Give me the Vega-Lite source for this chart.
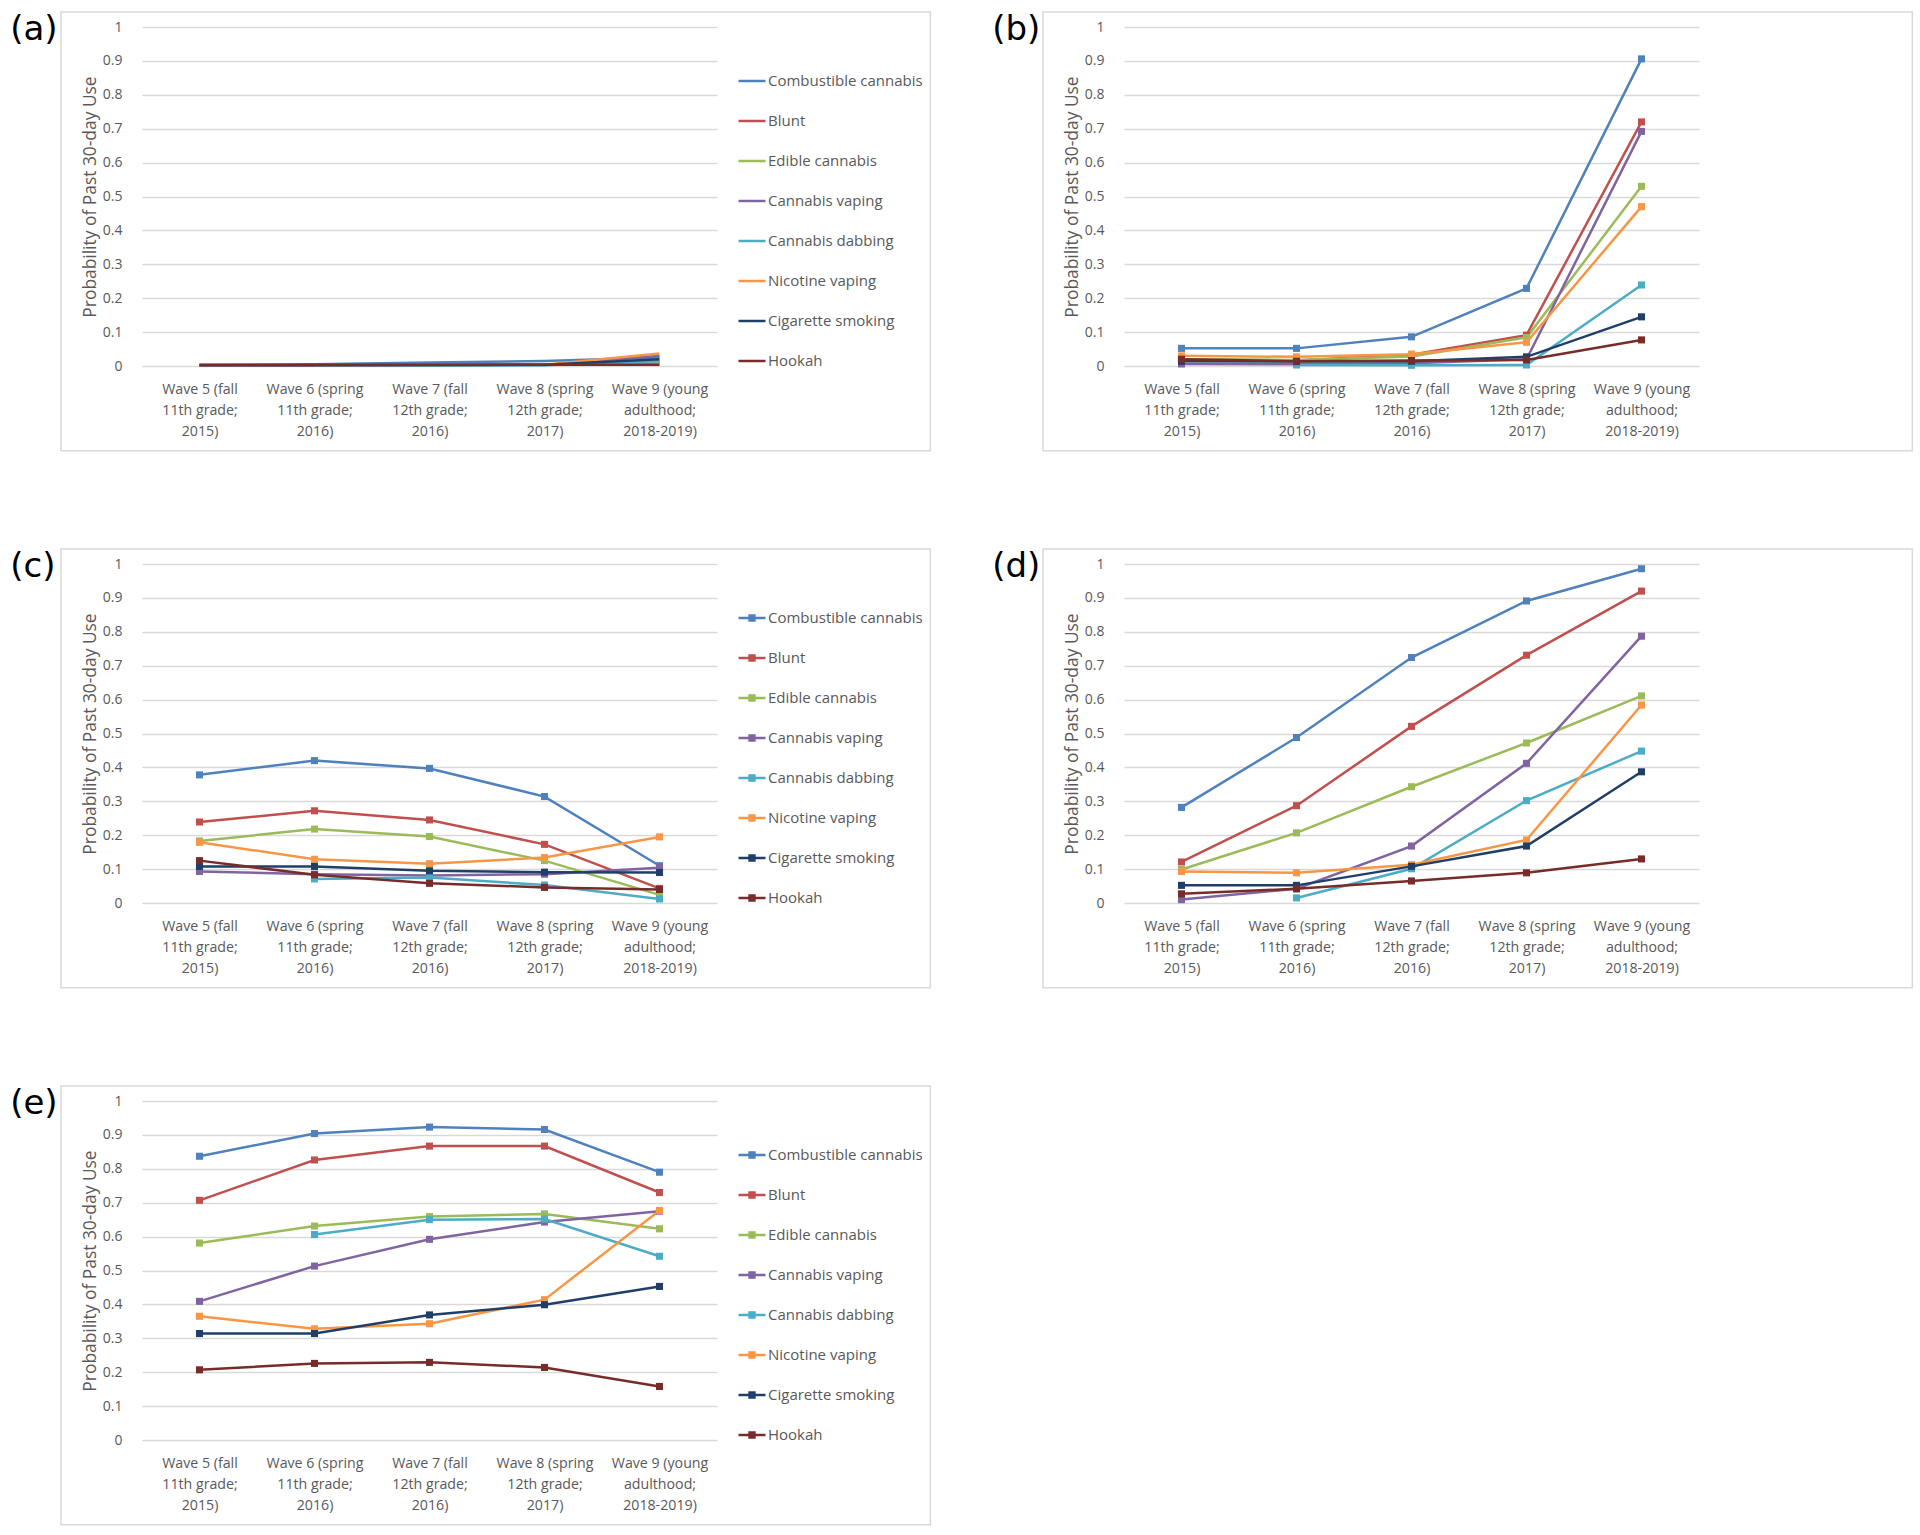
{
  "$schema": "https://vega.github.io/schema/vega-lite/v6.json",
  "background": "white",
  "padding": {"left": 10, "top": 11, "right": 5, "bottom": 5},
  "datasets": {
    "frame": [{"x0": -0.141, "x1": 1.371, "y0": -0.25, "y1": 1.044}],
    "d": [
      {"panel": "a", "s": "Combustible cannabis", "w": "Wave 5 (fall|11th grade;|2015)", "v": 0.003},
      {"panel": "a", "s": "Combustible cannabis", "w": "Wave 6 (spring|11th grade;|2016)", "v": 0.005},
      {"panel": "a", "s": "Combustible cannabis", "w": "Wave 7 (fall|12th grade;|2016)", "v": 0.01},
      {"panel": "a", "s": "Combustible cannabis", "w": "Wave 8 (spring|12th grade;|2017)", "v": 0.015},
      {"panel": "a", "s": "Combustible cannabis", "w": "Wave 9 (young|adulthood;|2018-2019)", "v": 0.025},
      {"panel": "a", "s": "Blunt", "w": "Wave 5 (fall|11th grade;|2015)", "v": 0.002},
      {"panel": "a", "s": "Blunt", "w": "Wave 6 (spring|11th grade;|2016)", "v": 0.002},
      {"panel": "a", "s": "Blunt", "w": "Wave 7 (fall|12th grade;|2016)", "v": 0.003},
      {"panel": "a", "s": "Blunt", "w": "Wave 8 (spring|12th grade;|2017)", "v": 0.004},
      {"panel": "a", "s": "Blunt", "w": "Wave 9 (young|adulthood;|2018-2019)", "v": 0.01},
      {"panel": "a", "s": "Edible cannabis", "w": "Wave 5 (fall|11th grade;|2015)", "v": 0.002},
      {"panel": "a", "s": "Edible cannabis", "w": "Wave 6 (spring|11th grade;|2016)", "v": 0.002},
      {"panel": "a", "s": "Edible cannabis", "w": "Wave 7 (fall|12th grade;|2016)", "v": 0.003},
      {"panel": "a", "s": "Edible cannabis", "w": "Wave 8 (spring|12th grade;|2017)", "v": 0.004},
      {"panel": "a", "s": "Edible cannabis", "w": "Wave 9 (young|adulthood;|2018-2019)", "v": 0.008},
      {"panel": "a", "s": "Cannabis vaping", "w": "Wave 5 (fall|11th grade;|2015)", "v": 0.001},
      {"panel": "a", "s": "Cannabis vaping", "w": "Wave 6 (spring|11th grade;|2016)", "v": 0.001},
      {"panel": "a", "s": "Cannabis vaping", "w": "Wave 7 (fall|12th grade;|2016)", "v": 0.002},
      {"panel": "a", "s": "Cannabis vaping", "w": "Wave 8 (spring|12th grade;|2017)", "v": 0.003},
      {"panel": "a", "s": "Cannabis vaping", "w": "Wave 9 (young|adulthood;|2018-2019)", "v": 0.03},
      {"panel": "a", "s": "Cannabis dabbing", "w": "Wave 6 (spring|11th grade;|2016)", "v": 0.001},
      {"panel": "a", "s": "Cannabis dabbing", "w": "Wave 7 (fall|12th grade;|2016)", "v": 0.001},
      {"panel": "a", "s": "Cannabis dabbing", "w": "Wave 8 (spring|12th grade;|2017)", "v": 0.002},
      {"panel": "a", "s": "Cannabis dabbing", "w": "Wave 9 (young|adulthood;|2018-2019)", "v": 0.015},
      {"panel": "a", "s": "Nicotine vaping", "w": "Wave 5 (fall|11th grade;|2015)", "v": 0.002},
      {"panel": "a", "s": "Nicotine vaping", "w": "Wave 6 (spring|11th grade;|2016)", "v": 0.002},
      {"panel": "a", "s": "Nicotine vaping", "w": "Wave 7 (fall|12th grade;|2016)", "v": 0.003},
      {"panel": "a", "s": "Nicotine vaping", "w": "Wave 8 (spring|12th grade;|2017)", "v": 0.004},
      {"panel": "a", "s": "Nicotine vaping", "w": "Wave 9 (young|adulthood;|2018-2019)", "v": 0.037},
      {"panel": "a", "s": "Cigarette smoking", "w": "Wave 5 (fall|11th grade;|2015)", "v": 0.002},
      {"panel": "a", "s": "Cigarette smoking", "w": "Wave 6 (spring|11th grade;|2016)", "v": 0.002},
      {"panel": "a", "s": "Cigarette smoking", "w": "Wave 7 (fall|12th grade;|2016)", "v": 0.003},
      {"panel": "a", "s": "Cigarette smoking", "w": "Wave 8 (spring|12th grade;|2017)", "v": 0.004},
      {"panel": "a", "s": "Cigarette smoking", "w": "Wave 9 (young|adulthood;|2018-2019)", "v": 0.02},
      {"panel": "a", "s": "Hookah", "w": "Wave 5 (fall|11th grade;|2015)", "v": 0.004},
      {"panel": "a", "s": "Hookah", "w": "Wave 6 (spring|11th grade;|2016)", "v": 0.004},
      {"panel": "a", "s": "Hookah", "w": "Wave 7 (fall|12th grade;|2016)", "v": 0.004},
      {"panel": "a", "s": "Hookah", "w": "Wave 8 (spring|12th grade;|2017)", "v": 0.004},
      {"panel": "a", "s": "Hookah", "w": "Wave 9 (young|adulthood;|2018-2019)", "v": 0.004},

      {"panel": "b", "s": "Combustible cannabis", "w": "Wave 5 (fall|11th grade;|2015)", "v": 0.052},
      {"panel": "b", "s": "Combustible cannabis", "w": "Wave 6 (spring|11th grade;|2016)", "v": 0.052},
      {"panel": "b", "s": "Combustible cannabis", "w": "Wave 7 (fall|12th grade;|2016)", "v": 0.086},
      {"panel": "b", "s": "Combustible cannabis", "w": "Wave 8 (spring|12th grade;|2017)", "v": 0.229},
      {"panel": "b", "s": "Combustible cannabis", "w": "Wave 9 (young|adulthood;|2018-2019)", "v": 0.906},
      {"panel": "b", "s": "Blunt", "w": "Wave 5 (fall|11th grade;|2015)", "v": 0.02},
      {"panel": "b", "s": "Blunt", "w": "Wave 6 (spring|11th grade;|2016)", "v": 0.016},
      {"panel": "b", "s": "Blunt", "w": "Wave 7 (fall|12th grade;|2016)", "v": 0.033},
      {"panel": "b", "s": "Blunt", "w": "Wave 8 (spring|12th grade;|2017)", "v": 0.091},
      {"panel": "b", "s": "Blunt", "w": "Wave 9 (young|adulthood;|2018-2019)", "v": 0.72},
      {"panel": "b", "s": "Edible cannabis", "w": "Wave 5 (fall|11th grade;|2015)", "v": 0.02},
      {"panel": "b", "s": "Edible cannabis", "w": "Wave 6 (spring|11th grade;|2016)", "v": 0.018},
      {"panel": "b", "s": "Edible cannabis", "w": "Wave 7 (fall|12th grade;|2016)", "v": 0.028},
      {"panel": "b", "s": "Edible cannabis", "w": "Wave 8 (spring|12th grade;|2017)", "v": 0.084},
      {"panel": "b", "s": "Edible cannabis", "w": "Wave 9 (young|adulthood;|2018-2019)", "v": 0.53},
      {"panel": "b", "s": "Cannabis vaping", "w": "Wave 5 (fall|11th grade;|2015)", "v": 0.006},
      {"panel": "b", "s": "Cannabis vaping", "w": "Wave 6 (spring|11th grade;|2016)", "v": 0.005},
      {"panel": "b", "s": "Cannabis vaping", "w": "Wave 7 (fall|12th grade;|2016)", "v": 0.008},
      {"panel": "b", "s": "Cannabis vaping", "w": "Wave 8 (spring|12th grade;|2017)", "v": 0.02},
      {"panel": "b", "s": "Cannabis vaping", "w": "Wave 9 (young|adulthood;|2018-2019)", "v": 0.692},
      {"panel": "b", "s": "Cannabis dabbing", "w": "Wave 6 (spring|11th grade;|2016)", "v": 0.003},
      {"panel": "b", "s": "Cannabis dabbing", "w": "Wave 7 (fall|12th grade;|2016)", "v": 0.002},
      {"panel": "b", "s": "Cannabis dabbing", "w": "Wave 8 (spring|12th grade;|2017)", "v": 0.003},
      {"panel": "b", "s": "Cannabis dabbing", "w": "Wave 9 (young|adulthood;|2018-2019)", "v": 0.239},
      {"panel": "b", "s": "Nicotine vaping", "w": "Wave 5 (fall|11th grade;|2015)", "v": 0.03},
      {"panel": "b", "s": "Nicotine vaping", "w": "Wave 6 (spring|11th grade;|2016)", "v": 0.027},
      {"panel": "b", "s": "Nicotine vaping", "w": "Wave 7 (fall|12th grade;|2016)", "v": 0.035},
      {"panel": "b", "s": "Nicotine vaping", "w": "Wave 8 (spring|12th grade;|2017)", "v": 0.07},
      {"panel": "b", "s": "Nicotine vaping", "w": "Wave 9 (young|adulthood;|2018-2019)", "v": 0.47},
      {"panel": "b", "s": "Cigarette smoking", "w": "Wave 5 (fall|11th grade;|2015)", "v": 0.014},
      {"panel": "b", "s": "Cigarette smoking", "w": "Wave 6 (spring|11th grade;|2016)", "v": 0.013},
      {"panel": "b", "s": "Cigarette smoking", "w": "Wave 7 (fall|12th grade;|2016)", "v": 0.014},
      {"panel": "b", "s": "Cigarette smoking", "w": "Wave 8 (spring|12th grade;|2017)", "v": 0.027},
      {"panel": "b", "s": "Cigarette smoking", "w": "Wave 9 (young|adulthood;|2018-2019)", "v": 0.145},
      {"panel": "b", "s": "Hookah", "w": "Wave 5 (fall|11th grade;|2015)", "v": 0.02},
      {"panel": "b", "s": "Hookah", "w": "Wave 6 (spring|11th grade;|2016)", "v": 0.014},
      {"panel": "b", "s": "Hookah", "w": "Wave 7 (fall|12th grade;|2016)", "v": 0.016},
      {"panel": "b", "s": "Hookah", "w": "Wave 8 (spring|12th grade;|2017)", "v": 0.018},
      {"panel": "b", "s": "Hookah", "w": "Wave 9 (young|adulthood;|2018-2019)", "v": 0.077},

      {"panel": "c", "s": "Combustible cannabis", "w": "Wave 5 (fall|11th grade;|2015)", "v": 0.378},
      {"panel": "c", "s": "Combustible cannabis", "w": "Wave 6 (spring|11th grade;|2016)", "v": 0.42},
      {"panel": "c", "s": "Combustible cannabis", "w": "Wave 7 (fall|12th grade;|2016)", "v": 0.397},
      {"panel": "c", "s": "Combustible cannabis", "w": "Wave 8 (spring|12th grade;|2017)", "v": 0.314},
      {"panel": "c", "s": "Combustible cannabis", "w": "Wave 9 (young|adulthood;|2018-2019)", "v": 0.11},
      {"panel": "c", "s": "Blunt", "w": "Wave 5 (fall|11th grade;|2015)", "v": 0.239},
      {"panel": "c", "s": "Blunt", "w": "Wave 6 (spring|11th grade;|2016)", "v": 0.272},
      {"panel": "c", "s": "Blunt", "w": "Wave 7 (fall|12th grade;|2016)", "v": 0.245},
      {"panel": "c", "s": "Blunt", "w": "Wave 8 (spring|12th grade;|2017)", "v": 0.173},
      {"panel": "c", "s": "Blunt", "w": "Wave 9 (young|adulthood;|2018-2019)", "v": 0.043},
      {"panel": "c", "s": "Edible cannabis", "w": "Wave 5 (fall|11th grade;|2015)", "v": 0.183},
      {"panel": "c", "s": "Edible cannabis", "w": "Wave 6 (spring|11th grade;|2016)", "v": 0.218},
      {"panel": "c", "s": "Edible cannabis", "w": "Wave 7 (fall|12th grade;|2016)", "v": 0.196},
      {"panel": "c", "s": "Edible cannabis", "w": "Wave 8 (spring|12th grade;|2017)", "v": 0.125},
      {"panel": "c", "s": "Edible cannabis", "w": "Wave 9 (young|adulthood;|2018-2019)", "v": 0.024},
      {"panel": "c", "s": "Cannabis vaping", "w": "Wave 5 (fall|11th grade;|2015)", "v": 0.093},
      {"panel": "c", "s": "Cannabis vaping", "w": "Wave 6 (spring|11th grade;|2016)", "v": 0.085},
      {"panel": "c", "s": "Cannabis vaping", "w": "Wave 7 (fall|12th grade;|2016)", "v": 0.081},
      {"panel": "c", "s": "Cannabis vaping", "w": "Wave 8 (spring|12th grade;|2017)", "v": 0.085},
      {"panel": "c", "s": "Cannabis vaping", "w": "Wave 9 (young|adulthood;|2018-2019)", "v": 0.104},
      {"panel": "c", "s": "Cannabis dabbing", "w": "Wave 6 (spring|11th grade;|2016)", "v": 0.071},
      {"panel": "c", "s": "Cannabis dabbing", "w": "Wave 7 (fall|12th grade;|2016)", "v": 0.075},
      {"panel": "c", "s": "Cannabis dabbing", "w": "Wave 8 (spring|12th grade;|2017)", "v": 0.053},
      {"panel": "c", "s": "Cannabis dabbing", "w": "Wave 9 (young|adulthood;|2018-2019)", "v": 0.012},
      {"panel": "c", "s": "Nicotine vaping", "w": "Wave 5 (fall|11th grade;|2015)", "v": 0.179},
      {"panel": "c", "s": "Nicotine vaping", "w": "Wave 6 (spring|11th grade;|2016)", "v": 0.129},
      {"panel": "c", "s": "Nicotine vaping", "w": "Wave 7 (fall|12th grade;|2016)", "v": 0.116},
      {"panel": "c", "s": "Nicotine vaping", "w": "Wave 8 (spring|12th grade;|2017)", "v": 0.134},
      {"panel": "c", "s": "Nicotine vaping", "w": "Wave 9 (young|adulthood;|2018-2019)", "v": 0.195},
      {"panel": "c", "s": "Cigarette smoking", "w": "Wave 5 (fall|11th grade;|2015)", "v": 0.108},
      {"panel": "c", "s": "Cigarette smoking", "w": "Wave 6 (spring|11th grade;|2016)", "v": 0.108},
      {"panel": "c", "s": "Cigarette smoking", "w": "Wave 7 (fall|12th grade;|2016)", "v": 0.095},
      {"panel": "c", "s": "Cigarette smoking", "w": "Wave 8 (spring|12th grade;|2017)", "v": 0.091},
      {"panel": "c", "s": "Cigarette smoking", "w": "Wave 9 (young|adulthood;|2018-2019)", "v": 0.09},
      {"panel": "c", "s": "Hookah", "w": "Wave 5 (fall|11th grade;|2015)", "v": 0.125},
      {"panel": "c", "s": "Hookah", "w": "Wave 6 (spring|11th grade;|2016)", "v": 0.083},
      {"panel": "c", "s": "Hookah", "w": "Wave 7 (fall|12th grade;|2016)", "v": 0.058},
      {"panel": "c", "s": "Hookah", "w": "Wave 8 (spring|12th grade;|2017)", "v": 0.046},
      {"panel": "c", "s": "Hookah", "w": "Wave 9 (young|adulthood;|2018-2019)", "v": 0.04},

      {"panel": "d", "s": "Combustible cannabis", "w": "Wave 5 (fall|11th grade;|2015)", "v": 0.282},
      {"panel": "d", "s": "Combustible cannabis", "w": "Wave 6 (spring|11th grade;|2016)", "v": 0.488},
      {"panel": "d", "s": "Combustible cannabis", "w": "Wave 7 (fall|12th grade;|2016)", "v": 0.724},
      {"panel": "d", "s": "Combustible cannabis", "w": "Wave 8 (spring|12th grade;|2017)", "v": 0.891},
      {"panel": "d", "s": "Combustible cannabis", "w": "Wave 9 (young|adulthood;|2018-2019)", "v": 0.986},
      {"panel": "d", "s": "Blunt", "w": "Wave 5 (fall|11th grade;|2015)", "v": 0.121},
      {"panel": "d", "s": "Blunt", "w": "Wave 6 (spring|11th grade;|2016)", "v": 0.287},
      {"panel": "d", "s": "Blunt", "w": "Wave 7 (fall|12th grade;|2016)", "v": 0.521},
      {"panel": "d", "s": "Blunt", "w": "Wave 8 (spring|12th grade;|2017)", "v": 0.731},
      {"panel": "d", "s": "Blunt", "w": "Wave 9 (young|adulthood;|2018-2019)", "v": 0.92},
      {"panel": "d", "s": "Edible cannabis", "w": "Wave 5 (fall|11th grade;|2015)", "v": 0.099},
      {"panel": "d", "s": "Edible cannabis", "w": "Wave 6 (spring|11th grade;|2016)", "v": 0.207},
      {"panel": "d", "s": "Edible cannabis", "w": "Wave 7 (fall|12th grade;|2016)", "v": 0.343},
      {"panel": "d", "s": "Edible cannabis", "w": "Wave 8 (spring|12th grade;|2017)", "v": 0.472},
      {"panel": "d", "s": "Edible cannabis", "w": "Wave 9 (young|adulthood;|2018-2019)", "v": 0.611},
      {"panel": "d", "s": "Cannabis vaping", "w": "Wave 5 (fall|11th grade;|2015)", "v": 0.01},
      {"panel": "d", "s": "Cannabis vaping", "w": "Wave 6 (spring|11th grade;|2016)", "v": 0.042},
      {"panel": "d", "s": "Cannabis vaping", "w": "Wave 7 (fall|12th grade;|2016)", "v": 0.168},
      {"panel": "d", "s": "Cannabis vaping", "w": "Wave 8 (spring|12th grade;|2017)", "v": 0.412},
      {"panel": "d", "s": "Cannabis vaping", "w": "Wave 9 (young|adulthood;|2018-2019)", "v": 0.787},
      {"panel": "d", "s": "Cannabis dabbing", "w": "Wave 6 (spring|11th grade;|2016)", "v": 0.015},
      {"panel": "d", "s": "Cannabis dabbing", "w": "Wave 7 (fall|12th grade;|2016)", "v": 0.101},
      {"panel": "d", "s": "Cannabis dabbing", "w": "Wave 8 (spring|12th grade;|2017)", "v": 0.302},
      {"panel": "d", "s": "Cannabis dabbing", "w": "Wave 9 (young|adulthood;|2018-2019)", "v": 0.448},
      {"panel": "d", "s": "Nicotine vaping", "w": "Wave 5 (fall|11th grade;|2015)", "v": 0.093},
      {"panel": "d", "s": "Nicotine vaping", "w": "Wave 6 (spring|11th grade;|2016)", "v": 0.089},
      {"panel": "d", "s": "Nicotine vaping", "w": "Wave 7 (fall|12th grade;|2016)", "v": 0.113},
      {"panel": "d", "s": "Nicotine vaping", "w": "Wave 8 (spring|12th grade;|2017)", "v": 0.186},
      {"panel": "d", "s": "Nicotine vaping", "w": "Wave 9 (young|adulthood;|2018-2019)", "v": 0.584},
      {"panel": "d", "s": "Cigarette smoking", "w": "Wave 5 (fall|11th grade;|2015)", "v": 0.052},
      {"panel": "d", "s": "Cigarette smoking", "w": "Wave 6 (spring|11th grade;|2016)", "v": 0.052},
      {"panel": "d", "s": "Cigarette smoking", "w": "Wave 7 (fall|12th grade;|2016)", "v": 0.108},
      {"panel": "d", "s": "Cigarette smoking", "w": "Wave 8 (spring|12th grade;|2017)", "v": 0.168},
      {"panel": "d", "s": "Cigarette smoking", "w": "Wave 9 (young|adulthood;|2018-2019)", "v": 0.387},
      {"panel": "d", "s": "Hookah", "w": "Wave 5 (fall|11th grade;|2015)", "v": 0.027},
      {"panel": "d", "s": "Hookah", "w": "Wave 6 (spring|11th grade;|2016)", "v": 0.042},
      {"panel": "d", "s": "Hookah", "w": "Wave 7 (fall|12th grade;|2016)", "v": 0.065},
      {"panel": "d", "s": "Hookah", "w": "Wave 8 (spring|12th grade;|2017)", "v": 0.089},
      {"panel": "d", "s": "Hookah", "w": "Wave 9 (young|adulthood;|2018-2019)", "v": 0.13},

      {"panel": "e", "s": "Combustible cannabis", "w": "Wave 5 (fall|11th grade;|2015)", "v": 0.837},
      {"panel": "e", "s": "Combustible cannabis", "w": "Wave 6 (spring|11th grade;|2016)", "v": 0.904},
      {"panel": "e", "s": "Combustible cannabis", "w": "Wave 7 (fall|12th grade;|2016)", "v": 0.923},
      {"panel": "e", "s": "Combustible cannabis", "w": "Wave 8 (spring|12th grade;|2017)", "v": 0.916},
      {"panel": "e", "s": "Combustible cannabis", "w": "Wave 9 (young|adulthood;|2018-2019)", "v": 0.79},
      {"panel": "e", "s": "Blunt", "w": "Wave 5 (fall|11th grade;|2015)", "v": 0.707},
      {"panel": "e", "s": "Blunt", "w": "Wave 6 (spring|11th grade;|2016)", "v": 0.826},
      {"panel": "e", "s": "Blunt", "w": "Wave 7 (fall|12th grade;|2016)", "v": 0.867},
      {"panel": "e", "s": "Blunt", "w": "Wave 8 (spring|12th grade;|2017)", "v": 0.867},
      {"panel": "e", "s": "Blunt", "w": "Wave 9 (young|adulthood;|2018-2019)", "v": 0.73},
      {"panel": "e", "s": "Edible cannabis", "w": "Wave 5 (fall|11th grade;|2015)", "v": 0.581},
      {"panel": "e", "s": "Edible cannabis", "w": "Wave 6 (spring|11th grade;|2016)", "v": 0.631},
      {"panel": "e", "s": "Edible cannabis", "w": "Wave 7 (fall|12th grade;|2016)", "v": 0.659},
      {"panel": "e", "s": "Edible cannabis", "w": "Wave 8 (spring|12th grade;|2017)", "v": 0.667},
      {"panel": "e", "s": "Edible cannabis", "w": "Wave 9 (young|adulthood;|2018-2019)", "v": 0.623},
      {"panel": "e", "s": "Cannabis vaping", "w": "Wave 5 (fall|11th grade;|2015)", "v": 0.409},
      {"panel": "e", "s": "Cannabis vaping", "w": "Wave 6 (spring|11th grade;|2016)", "v": 0.513},
      {"panel": "e", "s": "Cannabis vaping", "w": "Wave 7 (fall|12th grade;|2016)", "v": 0.592},
      {"panel": "e", "s": "Cannabis vaping", "w": "Wave 8 (spring|12th grade;|2017)", "v": 0.643},
      {"panel": "e", "s": "Cannabis vaping", "w": "Wave 9 (young|adulthood;|2018-2019)", "v": 0.675},
      {"panel": "e", "s": "Cannabis dabbing", "w": "Wave 6 (spring|11th grade;|2016)", "v": 0.606},
      {"panel": "e", "s": "Cannabis dabbing", "w": "Wave 7 (fall|12th grade;|2016)", "v": 0.65},
      {"panel": "e", "s": "Cannabis dabbing", "w": "Wave 8 (spring|12th grade;|2017)", "v": 0.652},
      {"panel": "e", "s": "Cannabis dabbing", "w": "Wave 9 (young|adulthood;|2018-2019)", "v": 0.542},
      {"panel": "e", "s": "Nicotine vaping", "w": "Wave 5 (fall|11th grade;|2015)", "v": 0.365},
      {"panel": "e", "s": "Nicotine vaping", "w": "Wave 6 (spring|11th grade;|2016)", "v": 0.328},
      {"panel": "e", "s": "Nicotine vaping", "w": "Wave 7 (fall|12th grade;|2016)", "v": 0.343},
      {"panel": "e", "s": "Nicotine vaping", "w": "Wave 8 (spring|12th grade;|2017)", "v": 0.414},
      {"panel": "e", "s": "Nicotine vaping", "w": "Wave 9 (young|adulthood;|2018-2019)", "v": 0.677},
      {"panel": "e", "s": "Cigarette smoking", "w": "Wave 5 (fall|11th grade;|2015)", "v": 0.314},
      {"panel": "e", "s": "Cigarette smoking", "w": "Wave 6 (spring|11th grade;|2016)", "v": 0.314},
      {"panel": "e", "s": "Cigarette smoking", "w": "Wave 7 (fall|12th grade;|2016)", "v": 0.369},
      {"panel": "e", "s": "Cigarette smoking", "w": "Wave 8 (spring|12th grade;|2017)", "v": 0.399},
      {"panel": "e", "s": "Cigarette smoking", "w": "Wave 9 (young|adulthood;|2018-2019)", "v": 0.453},
      {"panel": "e", "s": "Hookah", "w": "Wave 5 (fall|11th grade;|2015)", "v": 0.207},
      {"panel": "e", "s": "Hookah", "w": "Wave 6 (spring|11th grade;|2016)", "v": 0.226},
      {"panel": "e", "s": "Hookah", "w": "Wave 7 (fall|12th grade;|2016)", "v": 0.229},
      {"panel": "e", "s": "Hookah", "w": "Wave 8 (spring|12th grade;|2017)", "v": 0.214},
      {"panel": "e", "s": "Hookah", "w": "Wave 9 (young|adulthood;|2018-2019)", "v": 0.158}
    ]
  },
  "config": {
    "view": {"stroke": null},
    "font": "Open Sans",
    "axis": {
      "labelFont": "Open Sans",
      "labelColor": "#595959",
      "labelFontSize": 14,
      "titleFont": "Open Sans",
      "titleColor": "#595959",
      "titleFontWeight": "normal",
      "domain": false,
      "ticks": false,
      "tickSize": 0
    },
    "legend": {
      "labelFont": "Open Sans",
      "labelFontSize": 15,
      "labelColor": "#595959",
      "orient": "none",
      "legendX": 595,
      "legendY": 39,
      "rowPadding": 17,
      "symbolSize": 729,
      "symbolStrokeWidth": 2.5,
      "labelOffset": 1,
      "padding": 0
    },
    "title": {
      "font": "DejaVu Sans",
      "fontSize": 34,
      "fontWeight": "normal",
      "color": "#000000",
      "anchor": "start",
      "frame": "bounds",
      "baseline": "top",
      "offset": -36,
      "dx": -50
    },
    "concat": {"spacing": 96}
  },
  "resolve": {"scale": {"color": "independent"}, "legend": {"color": "independent"}},
  "vconcat": [
    {
      "spacing": 60,
      "hconcat": [
        {
          "title": "(a)",
          "width": 575, "height": 339,
          "resolve": {"scale": {"x": "independent", "y": "independent"}},
          "layer": [
            {
              "data": {"name": "d"},
              "transform": [{"filter": "datum.panel == 'a'"}],
              "mark": {"type": "line", "strokeWidth": 2.5},
              "encoding": {
                "x": {"field": "w", "type": "nominal", "sort": ["Wave 5 (fall|11th grade;|2015)", "Wave 6 (spring|11th grade;|2016)", "Wave 7 (fall|12th grade;|2016)", "Wave 8 (spring|12th grade;|2017)", "Wave 9 (young|adulthood;|2018-2019)"], "title": null, "axis": {"labelAngle": 0, "labelExpr": "split(datum.value, '|')", "labelLineHeight": 21, "labelPadding": 16, "labelFontSize": 14.2}},
                "y": {"field": "v", "type": "quantitative", "scale": {"domain": [0, 1], "nice": false}, "title": "Probability of Past 30-day Use", "axis": {"values": [0, 0.1, 0.2, 0.3, 0.4, 0.5, 0.6, 0.7, 0.8, 0.9, 1], "format": "~g", "gridColor": "#d9d9d9", "gridWidth": 1.3, "labelPadding": 20, "titlePadding": 3, "titleFontSize": 17.4}},
                "color": {"field": "s", "type": "nominal", "scale": {"domain": ["Combustible cannabis", "Blunt", "Edible cannabis", "Cannabis vaping", "Cannabis dabbing", "Nicotine vaping", "Cigarette smoking", "Hookah"], "range": ["#4F81BD", "#C0504D", "#9BBB59", "#8064A2", "#4BACC6", "#F79646", "#1F3F68", "#772C2A"]}, "legend": {"title": null, "symbolType": "stroke"}}
              }
            },
            {
              "data": {"name": "frame"},
              "mark": {"type": "rect", "filled": false, "stroke": "#d9d9d9", "strokeWidth": 1.5},
              "encoding": {
                "x": {"field": "x0", "type": "quantitative", "scale": {"domain": [0, 1], "nice": false, "zero": false}, "axis": null},
                "x2": {"field": "x1"},
                "y": {"field": "y0", "type": "quantitative", "scale": {"domain": [0, 1], "nice": false, "zero": false}, "axis": null},
                "y2": {"field": "y1"}
              }
            }
          ]
        },
        {
          "title": "(b)",
          "width": 575, "height": 339,
          "resolve": {"scale": {"x": "independent", "y": "independent"}},
          "layer": [
            {
              "data": {"name": "d"},
              "transform": [{"filter": "datum.panel == 'b'"}],
              "mark": {"type": "line", "strokeWidth": 2.5, "point": {"shape": "square", "size": 50, "filled": true}},
              "encoding": {
                "x": {"field": "w", "type": "nominal", "sort": ["Wave 5 (fall|11th grade;|2015)", "Wave 6 (spring|11th grade;|2016)", "Wave 7 (fall|12th grade;|2016)", "Wave 8 (spring|12th grade;|2017)", "Wave 9 (young|adulthood;|2018-2019)"], "title": null, "axis": {"labelAngle": 0, "labelExpr": "split(datum.value, '|')", "labelLineHeight": 21, "labelPadding": 16, "labelFontSize": 14.2}},
                "y": {"field": "v", "type": "quantitative", "scale": {"domain": [0, 1], "nice": false}, "title": "Probability of Past 30-day Use", "axis": {"values": [0, 0.1, 0.2, 0.3, 0.4, 0.5, 0.6, 0.7, 0.8, 0.9, 1], "format": "~g", "gridColor": "#d9d9d9", "gridWidth": 1.3, "labelPadding": 20, "titlePadding": 3, "titleFontSize": 17.4}},
                "color": {"field": "s", "type": "nominal", "scale": {"domain": ["Combustible cannabis", "Blunt", "Edible cannabis", "Cannabis vaping", "Cannabis dabbing", "Nicotine vaping", "Cigarette smoking", "Hookah"], "range": ["#4F81BD", "#C0504D", "#9BBB59", "#8064A2", "#4BACC6", "#F79646", "#1F3F68", "#772C2A"]}, "legend": {"title": null, "symbolType": "M-1,0H1M-0.18,-0.18H0.18V0.18H-0.18Z"}}
              }
            },
            {
              "data": {"name": "frame"},
              "mark": {"type": "rect", "filled": false, "stroke": "#d9d9d9", "strokeWidth": 1.5},
              "encoding": {
                "x": {"field": "x0", "type": "quantitative", "scale": {"domain": [0, 1], "nice": false, "zero": false}, "axis": null},
                "x2": {"field": "x1"},
                "y": {"field": "y0", "type": "quantitative", "scale": {"domain": [0, 1], "nice": false, "zero": false}, "axis": null},
                "y2": {"field": "y1"}
              }
            }
          ]
        }
      ]
    },
    {
      "spacing": 60,
      "hconcat": [
        {
          "title": "(c)",
          "width": 575, "height": 339,
          "resolve": {"scale": {"x": "independent", "y": "independent"}},
          "layer": [
            {
              "data": {"name": "d"},
              "transform": [{"filter": "datum.panel == 'c'"}],
              "mark": {"type": "line", "strokeWidth": 2.5, "point": {"shape": "square", "size": 50, "filled": true}},
              "encoding": {
                "x": {"field": "w", "type": "nominal", "sort": ["Wave 5 (fall|11th grade;|2015)", "Wave 6 (spring|11th grade;|2016)", "Wave 7 (fall|12th grade;|2016)", "Wave 8 (spring|12th grade;|2017)", "Wave 9 (young|adulthood;|2018-2019)"], "title": null, "axis": {"labelAngle": 0, "labelExpr": "split(datum.value, '|')", "labelLineHeight": 21, "labelPadding": 16, "labelFontSize": 14.2}},
                "y": {"field": "v", "type": "quantitative", "scale": {"domain": [0, 1], "nice": false}, "title": "Probability of Past 30-day Use", "axis": {"values": [0, 0.1, 0.2, 0.3, 0.4, 0.5, 0.6, 0.7, 0.8, 0.9, 1], "format": "~g", "gridColor": "#d9d9d9", "gridWidth": 1.3, "labelPadding": 20, "titlePadding": 3, "titleFontSize": 17.4}},
                "color": {"field": "s", "type": "nominal", "scale": {"domain": ["Combustible cannabis", "Blunt", "Edible cannabis", "Cannabis vaping", "Cannabis dabbing", "Nicotine vaping", "Cigarette smoking", "Hookah"], "range": ["#4F81BD", "#C0504D", "#9BBB59", "#8064A2", "#4BACC6", "#F79646", "#1F3F68", "#772C2A"]}, "legend": {"title": null, "symbolType": "M-1,0H1M-0.18,-0.18H0.18V0.18H-0.18Z"}}
              }
            },
            {
              "data": {"name": "frame"},
              "mark": {"type": "rect", "filled": false, "stroke": "#d9d9d9", "strokeWidth": 1.5},
              "encoding": {
                "x": {"field": "x0", "type": "quantitative", "scale": {"domain": [0, 1], "nice": false, "zero": false}, "axis": null},
                "x2": {"field": "x1"},
                "y": {"field": "y0", "type": "quantitative", "scale": {"domain": [0, 1], "nice": false, "zero": false}, "axis": null},
                "y2": {"field": "y1"}
              }
            }
          ]
        },
        {
          "title": "(d)",
          "width": 575, "height": 339,
          "resolve": {"scale": {"x": "independent", "y": "independent"}},
          "layer": [
            {
              "data": {"name": "d"},
              "transform": [{"filter": "datum.panel == 'd'"}],
              "mark": {"type": "line", "strokeWidth": 2.5, "point": {"shape": "square", "size": 50, "filled": true}},
              "encoding": {
                "x": {"field": "w", "type": "nominal", "sort": ["Wave 5 (fall|11th grade;|2015)", "Wave 6 (spring|11th grade;|2016)", "Wave 7 (fall|12th grade;|2016)", "Wave 8 (spring|12th grade;|2017)", "Wave 9 (young|adulthood;|2018-2019)"], "title": null, "axis": {"labelAngle": 0, "labelExpr": "split(datum.value, '|')", "labelLineHeight": 21, "labelPadding": 16, "labelFontSize": 14.2}},
                "y": {"field": "v", "type": "quantitative", "scale": {"domain": [0, 1], "nice": false}, "title": "Probability of Past 30-day Use", "axis": {"values": [0, 0.1, 0.2, 0.3, 0.4, 0.5, 0.6, 0.7, 0.8, 0.9, 1], "format": "~g", "gridColor": "#d9d9d9", "gridWidth": 1.3, "labelPadding": 20, "titlePadding": 3, "titleFontSize": 17.4}},
                "color": {"field": "s", "type": "nominal", "scale": {"domain": ["Combustible cannabis", "Blunt", "Edible cannabis", "Cannabis vaping", "Cannabis dabbing", "Nicotine vaping", "Cigarette smoking", "Hookah"], "range": ["#4F81BD", "#C0504D", "#9BBB59", "#8064A2", "#4BACC6", "#F79646", "#1F3F68", "#772C2A"]}, "legend": {"title": null, "symbolType": "M-1,0H1M-0.18,-0.18H0.18V0.18H-0.18Z"}}
              }
            },
            {
              "data": {"name": "frame"},
              "mark": {"type": "rect", "filled": false, "stroke": "#d9d9d9", "strokeWidth": 1.5},
              "encoding": {
                "x": {"field": "x0", "type": "quantitative", "scale": {"domain": [0, 1], "nice": false, "zero": false}, "axis": null},
                "x2": {"field": "x1"},
                "y": {"field": "y0", "type": "quantitative", "scale": {"domain": [0, 1], "nice": false, "zero": false}, "axis": null},
                "y2": {"field": "y1"}
              }
            }
          ]
        }
      ]
    },
    {
      "hconcat": [
        {
          "title": "(e)",
          "width": 575, "height": 339,
          "resolve": {"scale": {"x": "independent", "y": "independent"}},
          "layer": [
            {
              "data": {"name": "d"},
              "transform": [{"filter": "datum.panel == 'e'"}],
              "mark": {"type": "line", "strokeWidth": 2.5, "point": {"shape": "square", "size": 50, "filled": true}},
              "encoding": {
                "x": {"field": "w", "type": "nominal", "sort": ["Wave 5 (fall|11th grade;|2015)", "Wave 6 (spring|11th grade;|2016)", "Wave 7 (fall|12th grade;|2016)", "Wave 8 (spring|12th grade;|2017)", "Wave 9 (young|adulthood;|2018-2019)"], "title": null, "axis": {"labelAngle": 0, "labelExpr": "split(datum.value, '|')", "labelLineHeight": 21, "labelPadding": 16, "labelFontSize": 14.2}},
                "y": {"field": "v", "type": "quantitative", "scale": {"domain": [0, 1], "nice": false}, "title": "Probability of Past 30-day Use", "axis": {"values": [0, 0.1, 0.2, 0.3, 0.4, 0.5, 0.6, 0.7, 0.8, 0.9, 1], "format": "~g", "gridColor": "#d9d9d9", "gridWidth": 1.3, "labelPadding": 20, "titlePadding": 3, "titleFontSize": 17.4}},
                "color": {"field": "s", "type": "nominal", "scale": {"domain": ["Combustible cannabis", "Blunt", "Edible cannabis", "Cannabis vaping", "Cannabis dabbing", "Nicotine vaping", "Cigarette smoking", "Hookah"], "range": ["#4F81BD", "#C0504D", "#9BBB59", "#8064A2", "#4BACC6", "#F79646", "#1F3F68", "#772C2A"]}, "legend": {"title": null, "symbolType": "M-1,0H1M-0.18,-0.18H0.18V0.18H-0.18Z"}}
              }
            },
            {
              "data": {"name": "frame"},
              "mark": {"type": "rect", "filled": false, "stroke": "#d9d9d9", "strokeWidth": 1.5},
              "encoding": {
                "x": {"field": "x0", "type": "quantitative", "scale": {"domain": [0, 1], "nice": false, "zero": false}, "axis": null},
                "x2": {"field": "x1"},
                "y": {"field": "y0", "type": "quantitative", "scale": {"domain": [0, 1], "nice": false, "zero": false}, "axis": null},
                "y2": {"field": "y1"}
              }
            }
          ]
        }
      ]
    }
  ]
}
